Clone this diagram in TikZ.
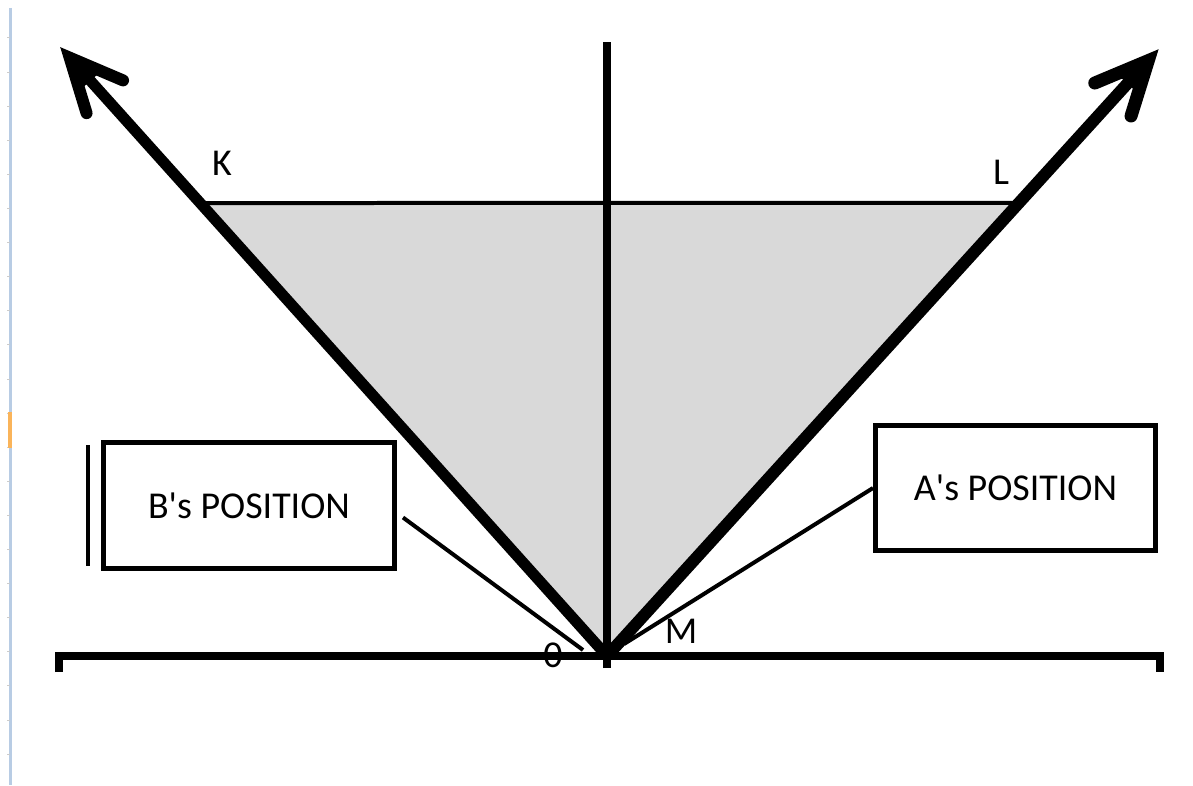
\documentclass[tikz,border=0pt]{standalone}
\usepackage{fontspec}
\setmainfont{Carlito}[Ligatures=TeXOff]
\usepackage{xcolor}
\usetikzlibrary{calc}
\usetikzlibrary{math, positioning}
\definecolor{mygray}{RGB}{217,217,217}
\definecolor{myframe}{RGB}{184,204,228}
\definecolor{myorange}{RGB}{250,180,90}

\tikzset{
  axis/.style={line width=0.08cm, line join=miter},
  ray/.style={line width=#1},
  barb/.style={line width=#1, line cap=round, line join=miter},
  posbox/.style={draw, line width=0.05cm, inner sep=0pt, font=\fontsize{10.8}{12}\selectfont},
  link/.style={line width=0.04cm},
  lbl/.style={inner sep=0pt, font=\fontsize{10.8}{12}\selectfont},
}

\begin{document}
\begin{tikzpicture}[scale=1]
\tikzmath{
\W=11.93;
\H=7.85;
\yo=1.29;
}
\useasboundingbox (0,0) rectangle (\W,\H);

%%%%%%%%%% page edge
\draw[myframe, line width=0.03cm] (0.10,7.77) -- (0.10,0);
\foreach \k in {0,...,21}
  \draw[gray!40, line width=0.01cm] (0.07,7.47-0.341*\k) -- (0.10,7.47-0.341*\k);
\fill[myorange] (0.08,3.37) rectangle (0.115,3.73);

%%%%%%%%%% points
\coordinate (O) at (6.07,\yo);
\coordinate (tipB) at (0.61,7.37);
\coordinate (tipA) at (11.57,7.34);
\coordinate (cB) at ($(tipB)!0.13cm!(O)$);
\coordinate (cA) at ($(tipA)!0.13cm!(O)$);
\path (O) -- (tipB) coordinate[pos=0.745] (K);
\path (O) -- (tipA) coordinate[pos=0.749] (L);

%%%%%%%%%% shaded cone
\fill[mygray] (O) -- (K) -- (L) -- cycle;
\draw[line width=0.04cm] (K) -- (L);

\node[lbl] (labK) at (2.22,6.215) {K};
\node[lbl] (labL) at (10.01,6.13) {L};
\node[lbl] (labO) at (5.53,1.30) {0};
\node[lbl] (labM) at (6.81,1.54) {M};

%%%%%%%%%% axes
\draw[axis] (6.07,1.17) -- (6.07,7.43);
\draw[axis] (0.59,1.13) -- (0.59,\yo) -- (11.60,\yo) -- (11.60,1.13);

%%%%%%%%%% world lines
\draw[ray=0.11cm] (O) -- (cB);
\draw[barb=0.12cm] ($(cB)!0.58cm!25:(O)$) -- (cB) -- ($(cB)!0.58cm!-25:(O)$);
\fill (cB) -- ($(cB)!0.34cm!24:(O)$) -- ($(cB)!0.34cm!-24:(O)$) -- cycle;
\draw[ray=0.12cm] (O) -- (cA);
\draw[barb=0.13cm] ($(cA)!0.58cm!25:(O)$) -- (cA) -- ($(cA)!0.58cm!-25:(O)$);
\fill (cA) -- ($(cA)!0.34cm!24:(O)$) -- ($(cA)!0.34cm!-24:(O)$) -- cycle;

%%%%%%%%%% boxes
\node[posbox, minimum width=2.91cm, minimum height=1.26cm] (bbox) at (2.49,2.795) {B's POSITION};
\node[posbox, minimum width=2.80cm, minimum height=1.25cm] (abox) at (10.155,2.97) {A's POSITION};
\draw[line width=0.04cm] ([xshift=-0.13cm,yshift=-0.05cm]bbox.north west) -- ([xshift=-0.13cm,yshift=0.05cm]bbox.south west);

\coordinate (pB) at (5.83,1.35);
\coordinate (pA) at (6.24,1.41);
\draw[link] ([xshift=0.6mm,yshift=-1.2mm]bbox.east) -- (pB);
\draw[link] (abox.west) -- (pA);

\end{tikzpicture}
\end{document}
